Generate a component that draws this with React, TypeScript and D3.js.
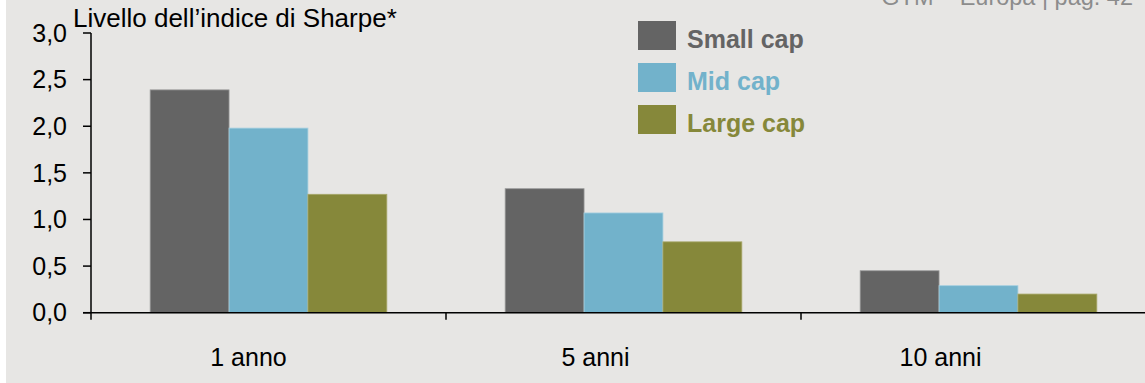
import React from "react";
import * as d3 from "d3";

const categories = ["1 anno", "5 anni", "10 anni"];
const seriesNames = ["Small cap", "Mid cap", "Large cap"];
const smallCap = [2.39, 1.33, 0.45];
const midCap = [1.98, 1.07, 0.29];
const largeCap = [1.27, 0.76, 0.2];
const yTicks = [0, 0.5, 1, 1.5, 2, 2.5, 3];
const yTickLabels = ["0,0", "0,5", "1,0", "1,5", "2,0", "2,5", "3,0"];
const titleText = "Livello dell\u2019indice di Sharpe*";
const headerText = "GTM \u2013 Europa | pag. 42";

const colors = ["#646464", "#72b2cb", "#86883a"];
const strokes = ["#9a9a9a", "#a8d0e0", "#a8a86a"];
const FONT = "'Liberation Sans', Arial, sans-serif";

export default function App() {
  const W = 1145;
  const H = 383;
  const x0 = 91;
  const bandW = 355;
  const y = d3.scaleLinear().domain([0, 3]).range([312.7, 33]);
  const x = d3
    .scaleBand<string>()
    .domain(categories)
    .range([x0, x0 + bandW * categories.length])
    .paddingInner(0)
    .paddingOuter(0);
  const inner = d3
    .scaleBand<string>()
    .domain(seriesNames)
    .range([0, bandW])
    .paddingOuter(0.75)
    .paddingInner(0);
  const series = [smallCap, midCap, largeCap];
  const labelShift = [-20, -28, -38];

  return (
    <svg
      width={W}
      height={H}
      style={{ position: "absolute", left: 0, top: 0 }}
      fontFamily={FONT}
    >
      <rect x={6} y={0} width={W - 6} height={H} fill="#e7e6e4" />
      <text x={1133} y={5} textAnchor="end" fontSize={23.5} fill="#8c8c8c">
        {headerText}
      </text>
      <text x={73} y={27} fontSize={26} fill="#000">
        {titleText}
      </text>
      {series.map((vals, si) =>
        categories.map((c, ci) => {
          const bx = (x(c) as number) + (inner(seriesNames[si]) as number);
          const by = y(vals[ci]);
          return (
            <rect
              key={`${si}-${ci}`}
              x={bx}
              y={by}
              width={inner.bandwidth()}
              height={y(0) - by}
              fill={colors[si]}
              stroke={strokes[si]}
              strokeWidth={0.8}
            />
          );
        })
      )}
      {/* y axis */}
      <line x1={x0} x2={x0} y1={y(3)} y2={y(0) + 7} stroke="#000" strokeWidth={1.5} />
      {yTicks.map((t, i) => (
        <g key={t}>
          <line x1={x0 - 8} x2={x0} y1={y(t)} y2={y(t)} stroke="#000" strokeWidth={1.5} />
          <text
            x={67}
            y={y(t)}
            dy="0.35em"
            textAnchor="end"
            fontSize={25}
            fill="#000"
          >
            {yTickLabels[i]}
          </text>
        </g>
      ))}
      {/* x axis */}
      <line x1={x0 - 8} x2={W} y1={y(0)} y2={y(0)} stroke="#000" strokeWidth={1.5} />
      {categories.map((c, i) => (
        <g key={c}>
          {i > 0 && (
            <line
              x1={x(c) as number}
              x2={x(c) as number}
              y1={y(0)}
              y2={y(0) + 7}
              stroke="#000"
              strokeWidth={1.5}
            />
          )}
          <text
            x={(x(c) as number) + x.bandwidth() / 2 + labelShift[i]}
            y={366}
            textAnchor="middle"
            fontSize={25}
            fill="#000"
          >
            {c}
          </text>
        </g>
      ))}
      {/* legend */}
      {seriesNames.map((s, i) => (
        <g key={s}>
          <rect x={638} y={21 + i * 42} width={38} height={29} fill={colors[i]} />
          <text
            x={687}
            y={47.5 + i * 42}
            fontSize={25}
            fontWeight="bold"
            fill={colors[i]}
          >
            {s}
          </text>
        </g>
      ))}
    </svg>
  );
}
